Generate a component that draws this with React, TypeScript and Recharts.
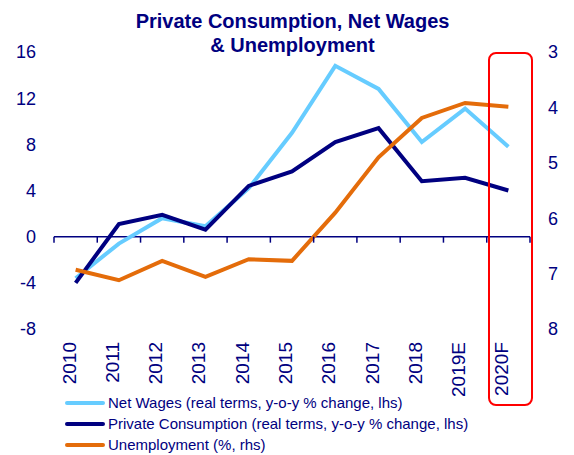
import React from "react";
import { LineChart, Line, XAxis, YAxis, ReferenceLine } from "recharts";

const YEARS = ["2010", "2011", "2012", "2013", "2014", "2015", "2016", "2017", "2018", "2019E", "2020F"];
const NET_WAGES = [-3.6, -0.6, 1.6, 0.9, 4.2, 9.0, 14.8, 12.8, 8.2, 11.1, 7.8];
const PRIVATE_CONSUMPTION = [-4.0, 1.1, 1.9, 0.6, 4.4, 5.65, 8.2, 9.4, 4.8, 5.1, 4.0];
const UNEMPLOYMENT = [6.93, 7.12, 6.77, 7.06, 6.74, 6.77, 5.9, 4.9, 4.19, 3.92, 3.99];
const LEFT_TICKS = [-8, -4, 0, 4, 8, 12, 16];
const RIGHT_TICKS = [3, 4, 5, 6, 7, 8];

const NAVY = "#000080";
const LIGHT_BLUE = "#66CCFF";
const ORANGE = "#E46C0A";
const FONT = "'Liberation Sans', Arial, sans-serif";

const W = 566;
const H = 410;
const TOP = 44;
const LEFT_W = 46;
const RIGHT_W = 44;
const XAXIS_H = 89;
const PLOT_H = H - TOP - XAXIS_H;
const PLOT_W = W - LEFT_W - RIGHT_W;
const BAND = PLOT_W / YEARS.length;
// pixel row of the zero line on the left axis
const ZERO_Y = TOP + (PLOT_H * 16) / 24;

const data = YEARS.map((year, i) => ({
  year,
  wages: NET_WAGES[i],
  consumption: PRIVATE_CONSUMPTION[i],
  unemployment: UNEMPLOYMENT[i],
}));

const legendItems = [
  { name: "Net Wages (real terms, y-o-y % change, lhs)", color: LIGHT_BLUE },
  { name: "Private Consumption (real terms, y-o-y % change, lhs)", color: NAVY },
  { name: "Unemployment (%, rhs)", color: ORANGE },
];

function YearTick(props: any) {
  const { x, payload, index } = props;
  const ly = TOP + PLOT_H + 13;
  return (
    <g>
      <line x1={x - BAND / 2} x2={x - BAND / 2} y1={ZERO_Y} y2={ZERO_Y + 6} stroke={NAVY} strokeWidth={1.5} />
      {index === YEARS.length - 1 && (
        <line x1={x + BAND / 2} x2={x + BAND / 2} y1={ZERO_Y} y2={ZERO_Y + 6} stroke={NAVY} strokeWidth={1.5} />
      )}
      <text
        x={x}
        y={ly}
        transform={`rotate(-90, ${x}, ${ly})`}
        textAnchor="end"
        fill={NAVY}
        fontSize={19}
        fontFamily={FONT}
      >
        {payload.value}
      </text>
    </g>
  );
}

const titleStyle: React.CSSProperties = {
  position: "absolute",
  left: 0,
  width: 569,
  textAlign: "center",
  color: NAVY,
  fontWeight: "bold",
  fontSize: 20,
  lineHeight: "24px",
  whiteSpace: "nowrap",
};

export default function App() {
  return (
    <div style={{ position: "relative", width: W, height: 447, fontFamily: FONT }}>
      <div style={{ ...titleStyle, top: 1 }}>Private Consumption, Net Wages</div>
      <div style={{ ...titleStyle, top: 25 }}>&amp; Unemployment</div>
      <LineChart width={W} height={H} data={data} margin={{ top: TOP, right: 0, left: 0, bottom: 0 }}>
        <XAxis
          dataKey="year"
          scale="band"
          height={XAXIS_H}
          axisLine={false}
          tickLine={false}
          interval={0}
          tick={<YearTick />}
        />
        <YAxis
          yAxisId="left"
          width={LEFT_W}
          domain={[-8, 16]}
          ticks={LEFT_TICKS}
          axisLine={false}
          tickLine={false}
          tickSize={0}
          tickMargin={18}
          tick={{ fill: NAVY, fontSize: 18, fontFamily: FONT }}
        />
        <YAxis
          yAxisId="right"
          orientation="right"
          width={RIGHT_W}
          domain={[3, 8]}
          reversed
          ticks={RIGHT_TICKS}
          axisLine={false}
          tickLine={false}
          tickSize={0}
          tickMargin={18}
          tick={{ fill: NAVY, fontSize: 18, fontFamily: FONT }}
        />
        <ReferenceLine yAxisId="left" y={0} stroke={NAVY} strokeWidth={1.5} />
        <Line
          yAxisId="left"
          dataKey="wages"
          stroke={LIGHT_BLUE}
          strokeWidth={4}
          dot={false}
          type="linear"
          isAnimationActive={false}
        />
        <Line
          yAxisId="left"
          dataKey="consumption"
          stroke={NAVY}
          strokeWidth={4}
          dot={false}
          type="linear"
          isAnimationActive={false}
        />
        <Line
          yAxisId="right"
          dataKey="unemployment"
          stroke={ORANGE}
          strokeWidth={4}
          dot={false}
          type="linear"
          isAnimationActive={false}
        />
      </LineChart>
      {/* red highlight around the forecast year */}
      <div
        style={{
          position: "absolute",
          left: 480,
          top: 44,
          width: 41,
          height: 350,
          border: "2.5px solid #FF0000",
          borderRadius: 8,
        }}
      />
      <div style={{ position: "absolute", left: 57, top: 384 }}>
        {legendItems.map((item) => (
          <div key={item.name} style={{ display: "flex", alignItems: "center", height: 21, color: NAVY, fontSize: 15 }}>
            <span style={{ display: "inline-block", width: 40, height: 4, background: item.color, borderRadius: 2, marginRight: 3 }} />
            {item.name}
          </div>
        ))}
      </div>
    </div>
  );
}
